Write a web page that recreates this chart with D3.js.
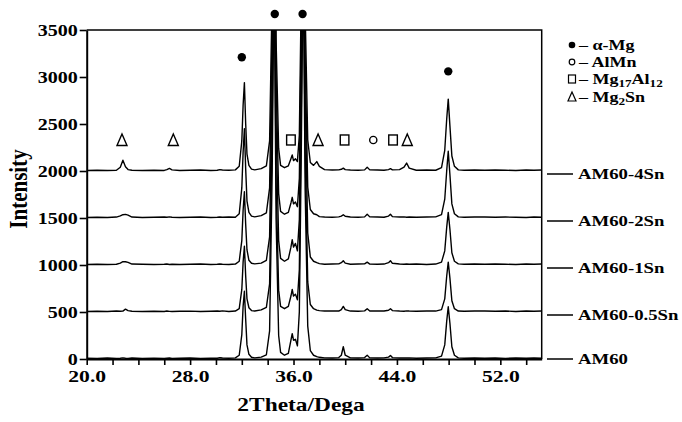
<!DOCTYPE html>
<html><head><meta charset="utf-8">
<script src="https://cdn.jsdelivr.net/npm/d3@7"></script>
<style>
body{margin:0;background:#fff}
svg{display:block}
text{font-family:"Liberation Serif","Times New Roman",serif;font-weight:bold;fill:#000}
</style>
</head><body>
<svg id="c" width="682" height="422"></svg>
<script>
// 2θ sampling positions (deg)
const twoTheta = [
 20.0, 20.8, 21.6, 22.3, 22.6, 22.8, 23.0, 23.2, 23.5, 24.3,
 25.2, 26.0, 26.2, 26.4, 26.6, 27.2, 28.0, 28.8, 29.6, 30.1,
 30.3, 30.5, 31.0, 31.5, 31.8, 32.0, 32.1, 32.2, 32.3, 32.4,
 32.55, 32.75, 33.0, 33.5, 33.9, 34.15, 34.35, 34.5, 34.65, 34.85,
 35.0, 35.3, 35.6, 35.8, 35.9, 36.0, 36.15, 36.3, 36.45, 36.6,
 36.75, 36.9, 37.1, 37.3, 37.55, 37.8, 38.0, 38.4, 39.0, 39.5,
 39.7, 39.85, 40.0, 40.4, 41.0, 41.5, 41.7, 41.9, 42.5, 43.0,
 43.35, 43.5, 43.65, 44.2, 44.55, 44.75, 44.95, 45.5, 46.3, 47.0,
 47.45, 47.7, 47.85, 47.97, 48.1, 48.25, 48.45, 48.75, 49.2, 50.0,
 50.8, 51.6, 52.4, 53.2, 54.0, 54.6, 55.2
];
// intensities above each trace's own baseline
const am60 = [
 8, 5, 10, 6, 8, 12, 8, 6, 10, 7,
 9, 6, 8, 10, 6, 8, 10, 7, 9, 8,
 14, 10, 8, 12, 40, 260, 560, 720, 420, 150,
 50, 18, 12, 20, 45, 300, 2000, 4200, 1500, 250,
 70, 40, 60, 200, 270, 200, 210, 140, 500, 2200,
 4300, 1800, 350, 90, 40, 25, 18, 12, 10, 15,
 40, 130, 40, 12, 10, 15, 40, 12, 10, 12,
 20, 38, 15, 10, 12, 10, 12, 8, 10, 12,
 30, 150, 400, 556, 380, 130, 40, 12, 8, 10,
 8, 10, 7, 10, 8, 10, 8
];
const am60_05Sn = [
 6, 8, 5, 10, 8, 10, 30, 15, 8, 6,
 8, 6, 10, 7, 6, 8, 9, 6, 8, 10,
 8, 12, 6, 10, 35, 240, 530, 700, 380, 140,
 45, 15, 10, 22, 50, 300, 2000, 4200, 1400, 230,
 60, 35, 60, 170, 240, 170, 190, 130, 450, 2100,
 4200, 1700, 320, 80, 35, 20, 15, 10, 12, 10,
 25, 60, 25, 10, 8, 12, 35, 10, 12, 10,
 18, 35, 15, 10, 8, 12, 10, 8, 10, 10,
 25, 140, 380, 530, 360, 120, 35, 10, 8, 10,
 10, 8, 10, 6, 10, 8, 10
];
const am60_1Sn = [
 6, 8, 6, 8, 20, 35, 35, 28, 10, 8,
 6, 8, 10, 6, 8, 6, 8, 10, 6, 8,
 10, 8, 6, 10, 40, 260, 580, 780, 430, 160,
 50, 18, 12, 20, 50, 300, 2000, 4200, 1500, 260,
 70, 40, 65, 190, 270, 190, 230, 150, 480, 2200,
 4300, 1800, 340, 85, 40, 25, 15, 8, 10, 12,
 25, 45, 20, 8, 10, 12, 30, 10, 8, 10,
 25, 45, 18, 10, 8, 10, 8, 10, 6, 10,
 30, 150, 400, 560, 380, 130, 40, 12, 8, 10,
 8, 10, 8, 6, 10, 8, 10
];
const am60_2Sn = [
 6, 8, 6, 10, 22, 35, 38, 30, 10, 6,
 8, 10, 8, 12, 8, 6, 8, 10, 6, 8,
 10, 8, 10, 8, 45, 320, 700, 950, 520, 180,
 60, 20, 12, 25, 55, 320, 2000, 4200, 1500, 260,
 70, 40, 60, 160, 220, 150, 170, 120, 420, 2000,
 4200, 1700, 330, 90, 45, 35, 15, 10, 8, 12,
 20, 35, 18, 10, 8, 12, 40, 12, 10, 8,
 20, 40, 15, 10, 12, 8, 10, 8, 10, 12,
 35, 200, 500, 710, 460, 150, 45, 12, 8, 10,
 10, 8, 10, 8, 6, 10, 8
];
const am60_4Sn = [
 6, 8, 5, 8, 40, 115, 45, 15, 8, 6,
 8, 6, 15, 28, 12, 6, 8, 10, 6, 8,
 15, 10, 8, 12, 50, 320, 700, 940, 500, 180,
 60, 20, 12, 25, 55, 320, 1900, 4100, 1400, 240,
 60, 35, 55, 130, 170, 110, 130, 100, 380, 1900,
 4100, 1700, 330, 90, 60, 100, 50, 15, 10, 12,
 18, 30, 15, 10, 8, 12, 40, 12, 10, 8,
 15, 25, 12, 15, 40, 85, 30, 8, 10, 8,
 35, 220, 550, 765, 480, 160, 50, 12, 8, 10,
 8, 10, 8, 6, 10, 8, 10
];
const seriesNames = ["AM60", "AM60-0.5Sn", "AM60-1Sn", "AM60-2Sn", "AM60-4Sn"];
const seriesValues = [am60, am60_05Sn, am60_1Sn, am60_2Sn, am60_4Sn];
const offsets = [0, 500, 1000, 1500, 2000];

const xTickValues = [20,22,24,26,28,30,32,34,36,38,40,42,44,46,48,50,52,54];
const xTickLabels = [20, 28, 36, 44, 52];
const yTickValues = [0, 500, 1000, 1500, 2000, 2500, 3000, 3500];

// phase markers [2θ, intensity]
const alphaMg = [[32.0, 3210], [34.55, 3670], [36.7, 3670], [47.97, 3060]];
const alMn = [[42.17, 2330]];
const mg17Al12 = [[35.8, 2330], [39.95, 2330], [43.7, 2330]];
const mg2Sn = [[22.73, 2330], [26.7, 2330], [37.9, 2330], [44.8, 2330]];

const svg = d3.select("#c");
const L = 86.7, R = 541.7, T = 30, B = 359;
const x = d3.scaleLinear().domain([20, 55.2]).range([L, R]);
const y = d3.scaleLinear().domain([0, 3500]).range([B, T]);

svg.append("defs").append("clipPath").attr("id", "clip")
  .append("rect").attr("x", L).attr("y", T).attr("width", R - L).attr("height", B - T);

// traces
const line = d3.line().x(d => x(d[0])).y(d => y(d[1]));
seriesValues.forEach((vals, i) => {
  const pts = twoTheta.map((t, j) => [t, vals[j] + offsets[i]]);
  svg.append("path").attr("d", line(pts)).attr("clip-path", "url(#clip)")
    .attr("fill", "none").attr("stroke", "#000").attr("stroke-width", 1.4)
    .attr("stroke-linejoin", "round");
});

// frame
svg.append("path").attr("d", `M${L},${T}H${R}V${B}`).attr("fill", "none")
  .attr("stroke", "#000").attr("stroke-width", 1.5);

// axes
const xAxis = svg.append("g").attr("transform", `translate(0,${B})`)
  .call(d3.axisBottom(x).tickValues(xTickValues).tickSize(6).tickSizeOuter(0)
    .tickFormat(d => xTickLabels.includes(d) ? d3.format(".1f")(d) : ""));
xAxis.select(".domain").attr("stroke-width", 2);
xAxis.selectAll(".tick line").attr("stroke-width", 1.6);
xAxis.selectAll(".tick text").attr("font-size", 16).attr("font-family", null)
  .attr("y", 11.5).attr("dy", "0.71em").attr("transform", "scale(1.35,1)");

const yAxis = svg.append("g").attr("transform", `translate(${L},0)`)
  .call(d3.axisLeft(y).tickValues(yTickValues).tickSize(7).tickSizeOuter(0).tickFormat(d3.format("d")));
yAxis.select(".domain").attr("stroke-width", 2);
yAxis.selectAll(".tick line").attr("stroke-width", 1.6);
yAxis.selectAll(".tick text").attr("font-size", 17).attr("font-family", null)
  .attr("x", -7.5).attr("dy", "0.3em").attr("transform", "scale(1.18,1)");

// axis titles
svg.append("text").attr("transform", `translate(301,411) scale(1.3,1)`)
  .attr("text-anchor", "middle").attr("font-size", 18).text("2Theta/Dega");
svg.append("text").attr("transform", `translate(27,189) rotate(-90) scale(1,1.2)`)
  .attr("text-anchor", "middle").attr("font-size", 21).text("Intensity");

// series labels on the right
seriesNames.forEach((n, i) => {
  const yy = y(offsets[i]) + (i === 0 ? 0 : 3);
  svg.append("line").attr("x1", 547).attr("x2", 573).attr("y1", yy).attr("y2", yy)
    .attr("stroke", "#000").attr("stroke-width", 1.5);
  svg.append("text").attr("transform", `translate(578,${yy + 5}) scale(1.25,1)`)
    .attr("font-size", 15).text(n);
});

// markers
const mk = svg.append("g").attr("fill", "none").attr("stroke", "#000").attr("stroke-width", 1.4);
alphaMg.forEach(d => svg.append("circle").attr("cx", x(d[0])).attr("cy", y(d[1])).attr("r", 4.2).attr("fill", "#000"));
alMn.forEach(d => mk.append("circle").attr("cx", x(d[0])).attr("cy", y(d[1])).attr("r", 3.6));
mg17Al12.forEach(d => mk.append("rect").attr("x", x(d[0]) - 4.3).attr("y", y(d[1]) - 5).attr("width", 8.6).attr("height", 10));
const tri = (cx, cy) => `M${cx},${cy - 6}L${cx + 5},${cy + 5.5}L${cx - 5},${cy + 5.5}Z`;
mg2Sn.forEach(d => mk.append("path").attr("d", tri(x(d[0]), y(d[1]))));

// legend
const lg = svg.append("g");
const rows = [45, 62, 79, 97];
lg.append("circle").attr("cx", 572).attr("cy", rows[0]).attr("r", 3.3).attr("fill", "#000");
lg.append("circle").attr("cx", 572).attr("cy", rows[1]).attr("r", 2.8).attr("fill", "none").attr("stroke", "#000").attr("stroke-width", 1.2);
lg.append("rect").attr("x", 568.5).attr("y", rows[2] - 4).attr("width", 7).attr("height", 8).attr("fill", "none").attr("stroke", "#000").attr("stroke-width", 1.2);
lg.append("path").attr("d", `M572,${rows[3] - 5}L576,${rows[3] + 4}L568,${rows[3] + 4}Z`).attr("fill", "none").attr("stroke", "#000").attr("stroke-width", 1.2);
const legText = (yy) => lg.append("text").attr("transform", `translate(579,${yy + 5}) scale(1.2,1)`).attr("font-size", 15);
legText(rows[0]).text("– α-Mg");
legText(rows[1]).text("– AlMn");
const t3 = legText(rows[2]);
t3.append("tspan").text("– Mg");
t3.append("tspan").attr("font-size", 11).attr("dy", 3).text("17");
t3.append("tspan").attr("dy", -3).text("Al");
t3.append("tspan").attr("font-size", 11).attr("dy", 3).text("12");
const t4 = legText(rows[3]);
t4.append("tspan").text("– Mg");
t4.append("tspan").attr("font-size", 11).attr("dy", 3).text("2");
t4.append("tspan").attr("dy", -3).text("Sn");
</script>
</body></html>
